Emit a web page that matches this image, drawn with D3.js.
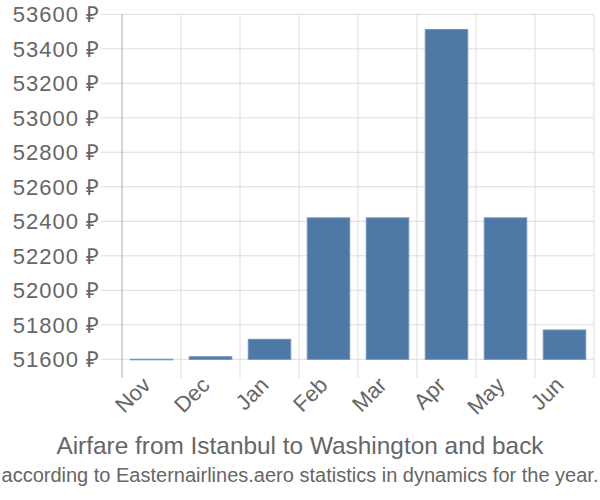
<!DOCTYPE html>
<html><head><meta charset="utf-8">
<script src="https://cdn.jsdelivr.net/npm/d3@7"></script>
<style>body{margin:0;background:#fff}svg{display:block}text{font-family:"Liberation Sans",Arial,sans-serif;fill:#666}</style>
</head><body><svg id="c" width="600" height="500"></svg>
<script>
const months = ["Nov","Dec","Jan","Feb","Mar","Apr","May","Jun"];
const prices = [51600,51615,51716,52420,52420,53512,52420,51770];
const yTicks = [51600,51800,52000,52200,52400,52600,52800,53000,53200,53400,53600];
const title = "Airfare from Istanbul to Washington and back";
const subtitle = "according to Easternairlines.aero statistics in dynamics for the year.";

const svg = d3.select("#c");
const L = 122, R = 594, T = 14.3, B = 378;
const y = d3.scaleLinear().domain([51600, 53600]).range([359.3, 14.3]);
const x = d3.scaleBand().domain(months).range([L, R]).paddingInner(0.28).paddingOuter(0.14);
const xg = d3.scaleBand().domain(months).range([L, R]);

const g = svg.append("g");
g.selectAll(".hg").data(yTicks).enter().append("line")
  .attr("x1", 101).attr("x2", R).attr("y1", d => y(d)).attr("y2", d => y(d))
  .attr("stroke", "#ddd").attr("stroke-width", 1);
const bounds = months.map(m => xg(m)).concat([R]);
g.selectAll(".vg").data(bounds.slice(1)).enter().append("line")
  .attr("x1", d => d).attr("x2", d => d).attr("y1", T).attr("y2", B)
  .attr("stroke", "#ddd").attr("stroke-width", 1);
g.append("line").attr("x1", L).attr("x2", L).attr("y1", T).attr("y2", B)
  .attr("stroke", "#aaa").attr("stroke-width", 1);

g.selectAll(".bar").data(months).enter().append("rect")
  .attr("x", m => x(m)).attr("width", x.bandwidth())
  .attr("y", (m, i) => y(prices[i]))
  .attr("height", (m, i) => Math.max(0.5, y(51600) - y(prices[i])))
  .attr("fill", "#4e79a7").attr("stroke", "#6f93bb").attr("stroke-width", 1);

g.selectAll(".yl").data(yTicks).enter().append("text")
  .attr("x", 100).attr("y", d => y(d)).attr("dy", "0.35em")
  .attr("text-anchor", "end").style("font-size", "22px").style("letter-spacing", "1px")
  .text(d => d + " \u20BD");

g.selectAll(".xl").data(months).enter().append("text")
  .attr("transform", m => `translate(${xg(m) + xg.bandwidth()/2 - 5},${381}) rotate(-45)`)
  .attr("text-anchor", "end").attr("dy", "0.35em").style("font-size", "22px")
  .text(m => m);

svg.append("text").attr("x", 300).attr("y", 454).attr("text-anchor", "middle")
  .style("font-size", "24.4px").text(title);
svg.append("text").attr("x", 300).attr("y", 482).attr("text-anchor", "middle")
  .style("font-size", "20px").text(subtitle);
</script></body></html>
